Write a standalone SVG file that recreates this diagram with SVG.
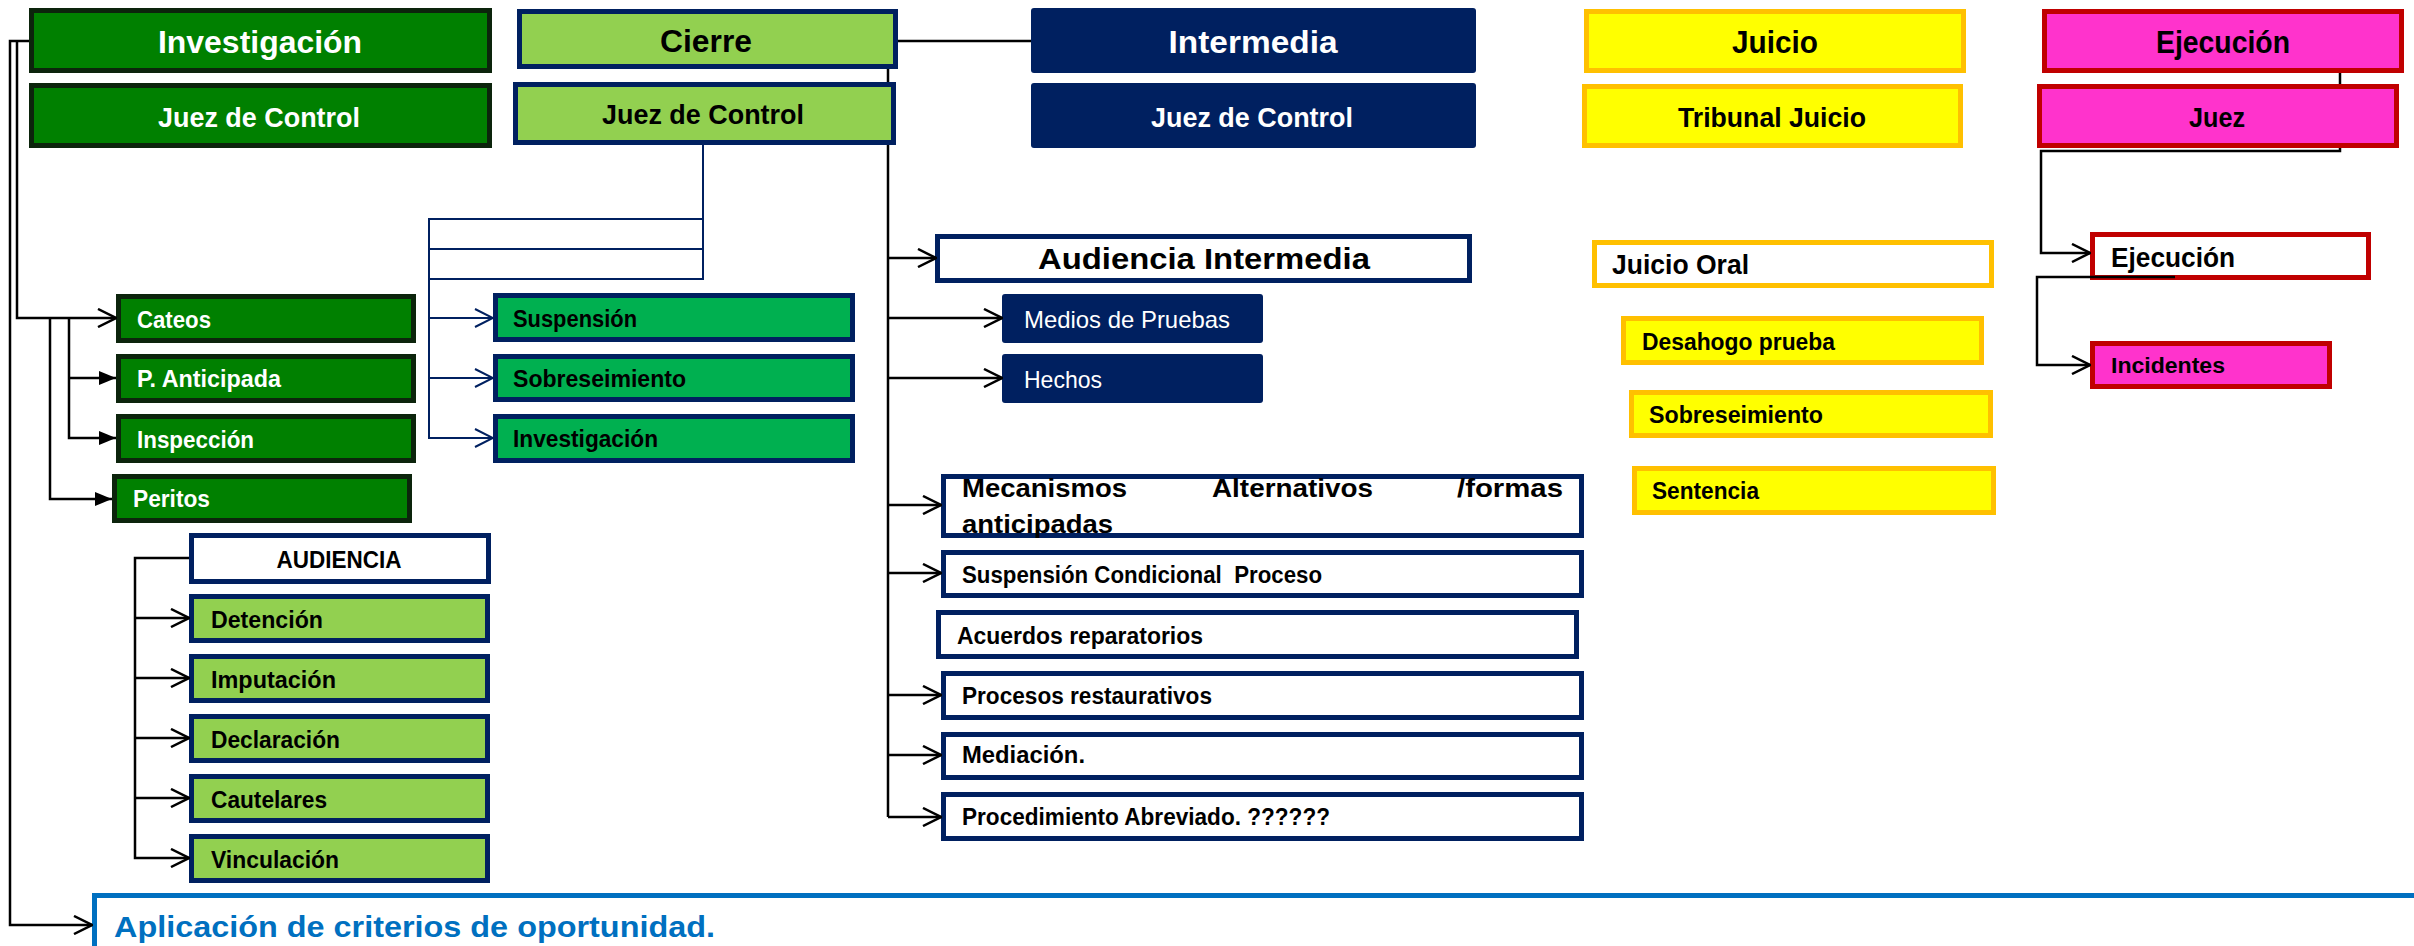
<svg xmlns="http://www.w3.org/2000/svg" width="2414" height="946" viewBox="0 0 2414 946">
<defs>
<style>
text{font-family:"Liberation Sans",Arial,sans-serif;font-weight:bold;fill:#000}
.w{fill:#fff}
.h{font-size:32px}
.s{font-size:28px}
.m{font-size:23px}
.reg{font-weight:normal}
.c{text-anchor:middle}
.dg{fill:#008000;stroke:#0c240c;stroke-width:5}
.lg{fill:#92D050;stroke:#002060;stroke-width:5}
.mg{fill:#00B050;stroke:#002060;stroke-width:5}
.nv{fill:#002060}
.wn{fill:#fff;stroke:#002060;stroke-width:5}
.yl{fill:#FFFF00;stroke:#FFC000;stroke-width:5}
.wy{fill:#fff;stroke:#FFC000;stroke-width:5}
.pk{fill:#FF33CC;stroke:#C00000;stroke-width:5}
.wr{fill:#fff;stroke:#C00000;stroke-width:5}
.bl{fill:#fff;stroke:#0070C0;stroke-width:5}
.k{fill:none;stroke:#000;stroke-width:2.5}
.n{fill:none;stroke:#002060;stroke-width:2}
</style>
<marker id="ob" viewBox="0 0 20 20" refX="19" refY="10" markerWidth="20" markerHeight="20" markerUnits="userSpaceOnUse" orient="auto"><path d="M1,1 L19,10 L1,19" fill="none" stroke="#000" stroke-width="2.5"/></marker>
<marker id="on" viewBox="0 0 20 20" refX="19" refY="10" markerWidth="20" markerHeight="20" markerUnits="userSpaceOnUse" orient="auto"><path d="M1,1 L19,10 L1,19" fill="none" stroke="#002060" stroke-width="2"/></marker>
<marker id="fb" viewBox="0 0 20 20" refX="18" refY="10" markerWidth="20" markerHeight="20" markerUnits="userSpaceOnUse" orient="auto"><path d="M1,3 L18,10 L1,17 Z" fill="#000"/></marker>
</defs>
<rect width="2414" height="946" fill="#fff"/>

<g id="investigacion"><rect class="dg" x="31.5" y="10.5" width="458" height="60"/><text class="h w c" x="260" y="53" textLength="204" lengthAdjust="spacingAndGlyphs">Investigación</text></g>
<g id="juez-inv"><rect class="dg" x="31.5" y="85.5" width="458" height="60"/><text class="s w c" x="259" y="127" textLength="202" lengthAdjust="spacingAndGlyphs">Juez de Control</text></g>
<g id="cierre"><rect class="lg" x="519.5" y="11.5" width="376" height="55"/><text class="h c" x="706" y="52" textLength="92" lengthAdjust="spacingAndGlyphs">Cierre</text></g>
<g id="juez-cierre"><rect class="lg" x="515.5" y="84.5" width="378" height="58"/><text class="s c" x="703" y="124" textLength="202" lengthAdjust="spacingAndGlyphs">Juez de Control</text></g>
<g id="intermedia"><rect class="nv" x="1031" y="8" width="445" height="65" rx="3"/><text class="h w c" x="1253" y="53" textLength="169" lengthAdjust="spacingAndGlyphs">Intermedia</text></g>
<g id="juez-intermedia"><rect class="nv" x="1031" y="83" width="445" height="65" rx="3"/><text class="s w c" x="1252" y="127" textLength="202" lengthAdjust="spacingAndGlyphs">Juez de Control</text></g>
<g id="juicio"><rect class="yl" x="1586.5" y="11.5" width="377" height="59"/><text class="h c" x="1775" y="53" textLength="86" lengthAdjust="spacingAndGlyphs">Juicio</text></g>
<g id="tribunal"><rect class="yl" x="1584.5" y="86.5" width="376" height="59"/><text class="s c" x="1772" y="127" textLength="188" lengthAdjust="spacingAndGlyphs">Tribunal Juicio</text></g>
<g id="ejecucion"><rect class="pk" x="2044.5" y="11.5" width="357" height="59"/><text class="h c" x="2223" y="53" textLength="134" lengthAdjust="spacingAndGlyphs">Ejecución</text></g>
<g id="juez-ejec"><rect class="pk" x="2039.5" y="86.5" width="357" height="59"/><text class="s c" x="2217" y="127" textLength="56" lengthAdjust="spacingAndGlyphs">Juez</text></g>

<g id="cateos"><rect class="dg" x="118.5" y="296.5" width="295" height="44"/><text class="m w" x="137" y="328" textLength="74" lengthAdjust="spacingAndGlyphs">Cateos</text></g>
<g id="anticipada"><rect class="dg" x="118.5" y="356.5" width="295" height="44"/><text class="m w" x="137" y="387" textLength="144" lengthAdjust="spacingAndGlyphs">P. Anticipada</text></g>
<g id="inspeccion"><rect class="dg" x="118.5" y="416.5" width="295" height="44"/><text class="m w" x="137" y="448" textLength="117" lengthAdjust="spacingAndGlyphs">Inspección</text></g>
<g id="peritos"><rect class="dg" x="114.5" y="476.5" width="295" height="44"/><text class="m w" x="133" y="507" textLength="77" lengthAdjust="spacingAndGlyphs">Peritos</text></g>

<g id="suspension"><rect class="mg" x="495.5" y="295.5" width="357" height="44"/><text class="m" x="513" y="327" textLength="124" lengthAdjust="spacingAndGlyphs">Suspensión</text></g>
<g id="sobreseimiento-c"><rect class="mg" x="495.5" y="356.5" width="357" height="43"/><text class="m" x="513" y="387" textLength="173" lengthAdjust="spacingAndGlyphs">Sobreseimiento</text></g>
<g id="investigacion-c"><rect class="mg" x="495.5" y="416.5" width="357" height="44"/><text class="m" x="513" y="447" textLength="145" lengthAdjust="spacingAndGlyphs">Investigación</text></g>

<g id="audiencia"><rect class="wn" x="191.5" y="535.5" width="297" height="46"/><text class="m c" x="339" y="568" textLength="125" lengthAdjust="spacingAndGlyphs">AUDIENCIA</text></g>
<g id="detencion"><rect class="lg" x="191.5" y="596.5" width="296" height="44"/><text class="m" x="211" y="628" textLength="112" lengthAdjust="spacingAndGlyphs">Detención</text></g>
<g id="imputacion"><rect class="lg" x="191.5" y="656.5" width="296" height="44"/><text class="m" x="211" y="688" textLength="125" lengthAdjust="spacingAndGlyphs">Imputación</text></g>
<g id="declaracion"><rect class="lg" x="191.5" y="716.5" width="296" height="44"/><text class="m" x="211" y="748" textLength="129" lengthAdjust="spacingAndGlyphs">Declaración</text></g>
<g id="cautelares"><rect class="lg" x="191.5" y="776.5" width="296" height="44"/><text class="m" x="211" y="808" textLength="116" lengthAdjust="spacingAndGlyphs">Cautelares</text></g>
<g id="vinculacion"><rect class="lg" x="191.5" y="836.5" width="296" height="44"/><text class="m" x="211" y="868" textLength="128" lengthAdjust="spacingAndGlyphs">Vinculación</text></g>

<g id="aplicacion"><rect class="bl" x="94.5" y="895.5" width="2400" height="100"/><text x="114" y="937" font-size="30" fill="#0070C0" style="fill:#0070C0" textLength="601" lengthAdjust="spacingAndGlyphs">Aplicación de criterios de oportunidad.</text></g>

<g id="audiencia-intermedia"><rect class="wn" x="937.5" y="236.5" width="532" height="44"/><text class="c" x="1204" y="269" font-size="30" textLength="332" lengthAdjust="spacingAndGlyphs">Audiencia Intermedia</text></g>
<g id="medios"><rect class="nv" x="1002" y="294" width="261" height="49" rx="3"/><text class="w reg" x="1024" y="328" font-size="24" textLength="206" lengthAdjust="spacingAndGlyphs">Medios de Pruebas</text></g>
<g id="hechos"><rect class="nv" x="1002" y="354" width="261" height="49" rx="3"/><text class="w reg" x="1024" y="388" font-size="24" textLength="78" lengthAdjust="spacingAndGlyphs">Hechos</text></g>
<g id="mecanismos"><rect class="wn" x="943.5" y="476.5" width="638" height="59"/><text x="962" y="497" font-size="26" textLength="165" lengthAdjust="spacingAndGlyphs">Mecanismos</text><text x="1212" y="497" font-size="26" textLength="161" lengthAdjust="spacingAndGlyphs">Alternativos</text><text x="1457" y="497" font-size="26" textLength="106" lengthAdjust="spacingAndGlyphs">/formas</text><text x="962" y="533" font-size="26" textLength="151" lengthAdjust="spacingAndGlyphs">anticipadas</text></g>
<g id="suspension-condicional"><rect class="wn" x="943.5" y="552.5" width="638" height="43"/><text class="m" x="962" y="583" style="white-space:pre" textLength="360" lengthAdjust="spacingAndGlyphs">Suspensión Condicional  Proceso</text></g>
<g id="acuerdos"><rect class="wn" x="938.5" y="612.5" width="638" height="44"/><text class="m" x="957" y="644" textLength="246" lengthAdjust="spacingAndGlyphs">Acuerdos reparatorios</text></g>
<g id="procesos"><rect class="wn" x="943.5" y="673.5" width="638" height="44"/><text class="m" x="962" y="704" textLength="250" lengthAdjust="spacingAndGlyphs">Procesos restaurativos</text></g>
<g id="mediacion"><rect class="wn" x="943.5" y="734.5" width="638" height="43"/><text class="m" x="962" y="763" textLength="123" lengthAdjust="spacingAndGlyphs">Mediación.</text></g>
<g id="abreviado"><rect class="wn" x="943.5" y="794.5" width="638" height="44"/><text class="m" x="962" y="825" textLength="368" lengthAdjust="spacingAndGlyphs">Procedimiento Abreviado. ??????</text></g>

<g id="juicio-oral"><rect class="wy" x="1594.5" y="242.5" width="397" height="43"/><text class="s" x="1612" y="274" textLength="137" lengthAdjust="spacingAndGlyphs">Juicio Oral</text></g>
<g id="desahogo"><rect class="yl" x="1623.5" y="318.5" width="358" height="44"/><text class="m" x="1642" y="350" textLength="193" lengthAdjust="spacingAndGlyphs">Desahogo prueba</text></g>
<g id="sobreseimiento-j"><rect class="yl" x="1631.5" y="392.5" width="359" height="43"/><text class="m" x="1649" y="423" textLength="174" lengthAdjust="spacingAndGlyphs">Sobreseimiento</text></g>
<g id="sentencia"><rect class="yl" x="1634.5" y="468.5" width="359" height="44"/><text class="m" x="1652" y="499" textLength="107" lengthAdjust="spacingAndGlyphs">Sentencia</text></g>

<g id="ejecucion-sub"><rect class="wr" x="2092.5" y="234.5" width="276" height="43"/><text class="s" x="2111" y="267" textLength="124" lengthAdjust="spacingAndGlyphs">Ejecución</text></g>
<g id="incidentes"><rect class="pk" x="2092.5" y="343.5" width="237" height="43"/><text x="2111" y="373" font-size="22" textLength="114" lengthAdjust="spacingAndGlyphs">Incidentes</text></g>

<g id="connectors">
<path class="k" stroke-width="2" d="M898,41 H1031"/>
<path class="k" d="M888,69 V82 M888,145 V817"/>
<path class="k" marker-end="url(#ob)" d="M888,258 H936"/>
<path class="k" marker-end="url(#ob)" d="M888,318 H1002"/>
<path class="k" marker-end="url(#ob)" d="M888,378 H1002"/>
<path class="k" marker-end="url(#ob)" d="M888,505 H941"/>
<path class="k" marker-end="url(#ob)" d="M888,573 H941"/>
<path class="k" marker-end="url(#ob)" d="M888,695 H941"/>
<path class="k" marker-end="url(#ob)" d="M888,755 H941"/>
<path class="k" marker-end="url(#ob)" d="M888,817 H941"/>
<path class="k" marker-end="url(#ob)" d="M29,41 H10 V925 H92"/>
<path class="k" marker-end="url(#ob)" d="M17,41 V318 H116"/>
<path class="k" marker-end="url(#fb)" d="M50,318 V499 H112"/>
<path class="k" marker-end="url(#fb)" d="M69,318 V438 H116"/>
<path class="k" marker-end="url(#fb)" d="M69,378 H116"/>
<path class="k" marker-end="url(#ob)" d="M189,558 H135 V858 H189"/>
<path class="k" marker-end="url(#ob)" d="M135,618 H189"/>
<path class="k" marker-end="url(#ob)" d="M135,678 H189"/>
<path class="k" marker-end="url(#ob)" d="M135,738 H189"/>
<path class="k" marker-end="url(#ob)" d="M135,798 H189"/>
<path class="k" d="M2340,73 V84"/>
<path class="k" marker-end="url(#ob)" d="M2340,148 V151 H2041 V253 H2090"/>
<path class="k" marker-end="url(#ob)" d="M2175,277 H2037 V365 H2090"/>
<path class="n" marker-end="url(#on)" d="M703,145 V219 H429 V318 H493"/>
<path class="n" marker-end="url(#on)" d="M703,219 V249 H429 V378 H493"/>
<path class="n" marker-end="url(#on)" d="M703,249 V279 H429 V438 H493"/>
</g>
</svg>
